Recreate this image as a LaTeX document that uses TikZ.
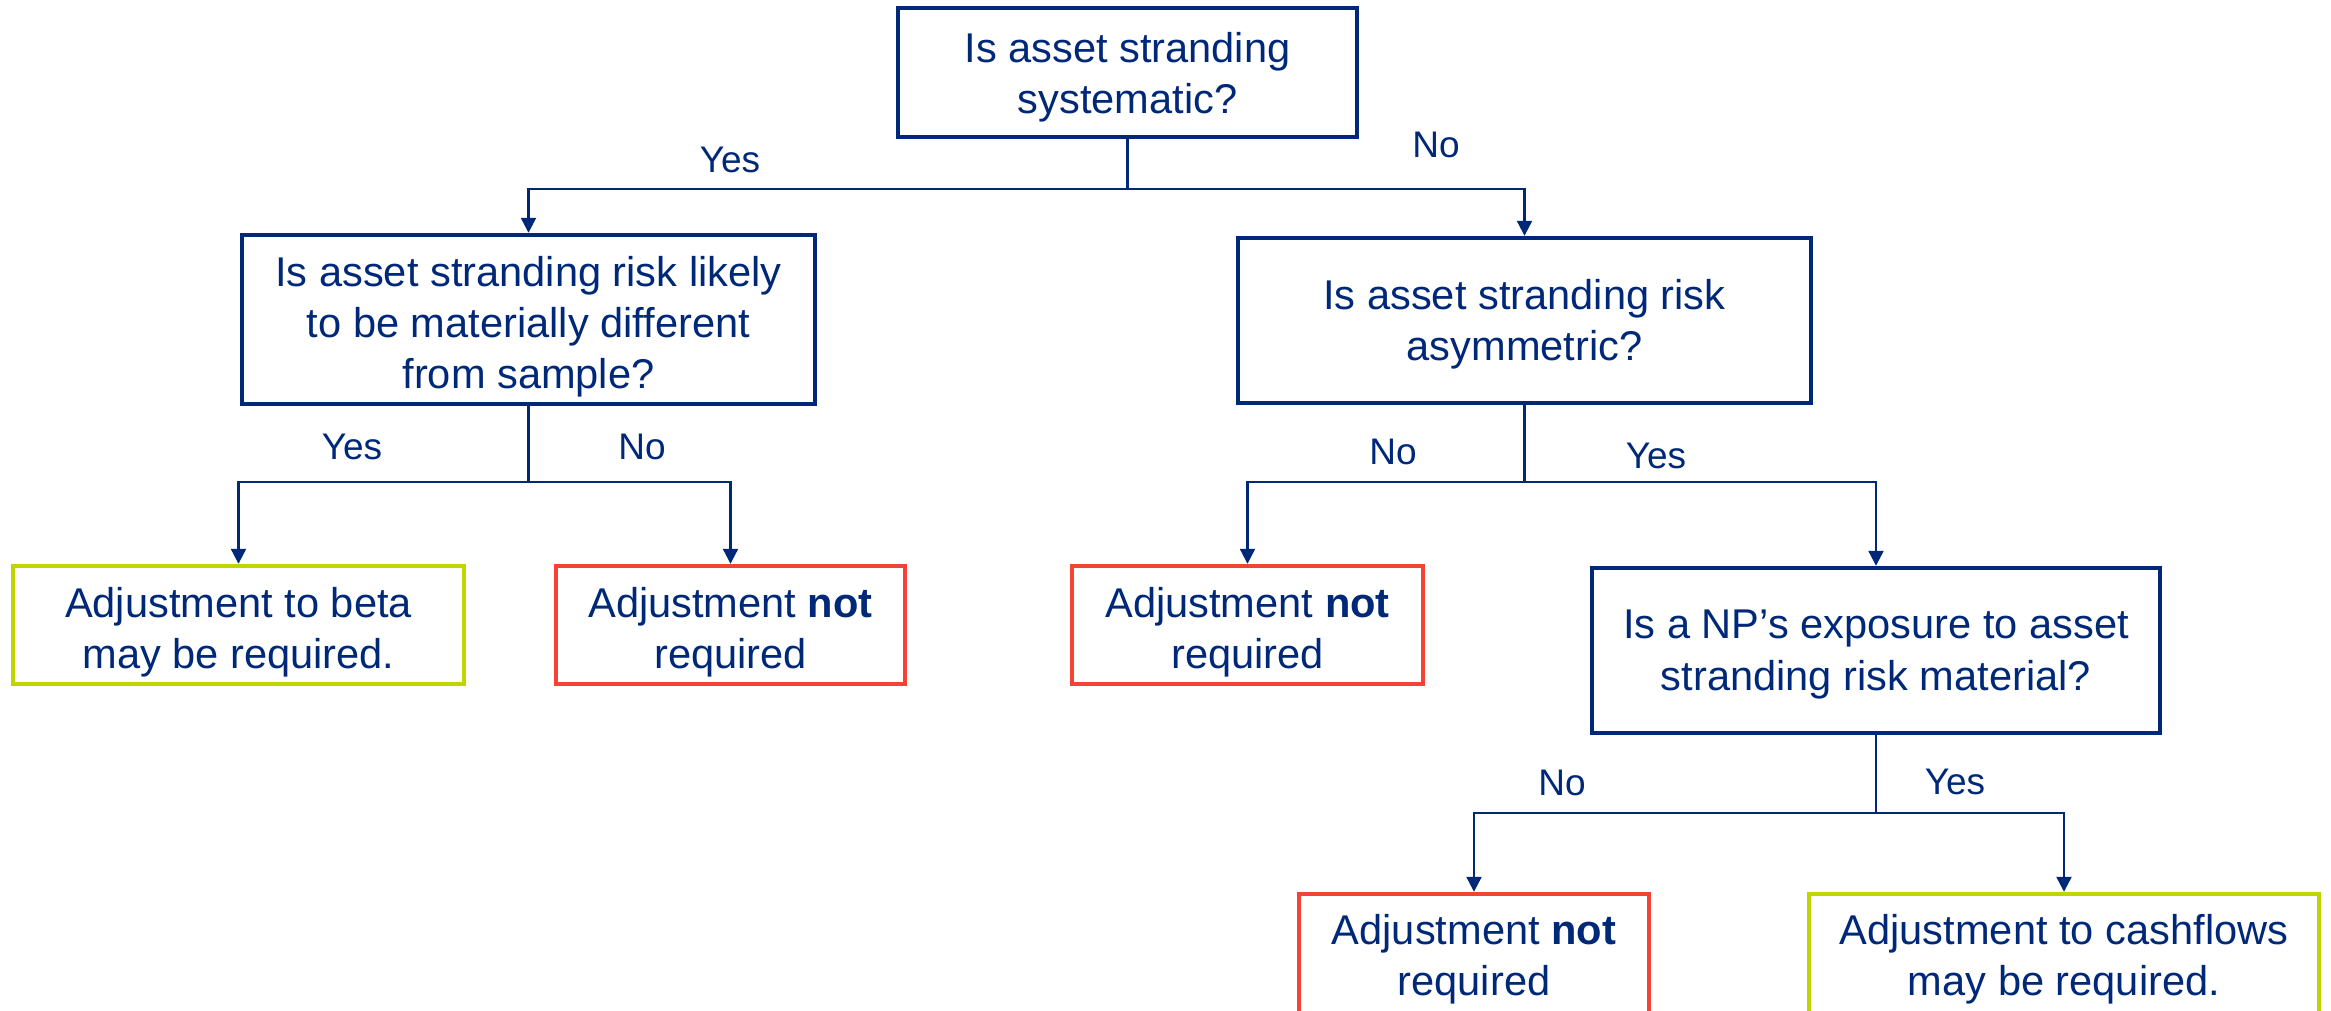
\documentclass[tikz,border=0pt]{standalone}
\usepackage{fontspec}
\setmainfont{Liberation Sans}
\usetikzlibrary{arrows.meta}
\definecolor{navy}{RGB}{0,40,120}
\definecolor{redb}{RGB}{244,67,54}
\definecolor{greenb}{RGB}{192,212,0}
\tikzset{
  box/.style={draw=navy, line width=2.2pt, inner sep=0pt},
  txt/.style={text=navy, align=center, inner sep=0pt,
    font=\fontsize{20.8}{25.6}\selectfont},
  qbox/.style={box},
  nobox/.style={box, draw=redb},
  yesbox/.style={box, draw=greenb},
  conn/.style={draw=navy, line width=1.1pt},
  arr/.style={conn, -{Triangle[width=7.5pt,length=7.5pt]}},
  lbl/.style={text=navy, font=\fontsize{18.5}{22}\selectfont, inner sep=0pt}
}
\begin{document}
\begin{tikzpicture}[x=0.5pt,y=-0.5pt]
\useasboundingbox (0,0) rectangle (2331,1011);
\clip (0,0) rectangle (2331,1011);
% question boxes
\node[qbox, minimum width=229.5pt, minimum height=64.5pt] (q1) at (1127.5,72.5) {};
\node[txt] (t1) at ([yshift=-2.5pt]q1.center) {Is asset stranding\\systematic?};
\node[qbox, minimum width=286.5pt, minimum height=84.5pt] (q2) at (528.5,319.5) {};
\node[txt] (t2) at ([yshift=-3.5pt]q2.center) {Is asset stranding risk likely\\to be materially different\\from sample?};
\node[qbox, minimum width=286.5pt, minimum height=82.5pt] (q3) at (1524.5,320.5) {};
\node[txt] (t3) at ([yshift=-2pt]q3.center) {Is asset stranding risk\\asymmetric?};
\node[qbox, minimum width=284pt, minimum height=82.5pt] (q4) at (1876,650.5) {};
\node[txt] (t4) at ([yshift=-2pt]q4.center) {Is a NP’s exposure to asset\\stranding risk material?};
% result boxes
\node[yesbox, minimum width=225.5pt, minimum height=59pt] (r1) at (238.5,625) {};
\node[txt] (s1) at ([yshift=-3.5pt]r1.center) {Adjustment to beta\\may be required.};
\node[nobox, minimum width=174.5pt, minimum height=59pt] (r2) at (730.5,625) {};
\node[txt] (s2) at ([yshift=-3.5pt]r2.center) {Adjustment \textbf{not}\\required};
\node[nobox, minimum width=175.5pt, minimum height=59pt] (r3) at (1247.5,625) {};
\node[txt] (s3) at ([yshift=-3.5pt]r3.center) {Adjustment \textbf{not}\\required};
\node[nobox, minimum width=175pt, minimum height=61pt] (r4) at (1474,955) {};
\node[txt] (s4) at ([yshift=-2pt]r4.center) {Adjustment \textbf{not}\\required};
\node[yesbox, minimum width=255pt, minimum height=61pt] (r5) at (2064,955) {};
\node[txt] (s5) at ([yshift=-2pt]r5.center) {Adjustment to cashflows\\may be required.};
% junctions
\coordinate (j1) at (1127.5,189);
\coordinate (j2) at (528.5,482);
\coordinate (j3) at (1524.5,482);
\coordinate (j4) at (1876,813);
% connectors
\draw[conn] (q1.south) -- (j1);
\draw[arr] (j1) -| (q2.north);
\draw[arr] (j1) -| (q3.north);
\draw[conn] (q2.south) -- (j2);
\draw[arr] (j2) -| (r1.north);
\draw[arr] (j2) -| (r2.north);
\draw[conn] (q3.south) -- (j3);
\draw[arr] (j3) -| (r3.north);
\draw[arr] (j3) -| (q4.north);
\draw[conn] (q4.south) -- (j4);
\draw[arr] (j4) -| (r4.north);
\draw[arr] (j4) -| (r5.north);
% labels
\node[lbl] (y1) at (730,160) {Yes};
\node[lbl] (n1) at (1436,145) {No};
\node[lbl] (y2) at (352,447) {Yes};
\node[lbl] (n2) at (642,447) {No};
\node[lbl] (n3) at (1393,452) {No};
\node[lbl] (y3) at (1656,456) {Yes};
\node[lbl] (n4) at (1562,783) {No};
\node[lbl] (y4) at (1955,782) {Yes};
\end{tikzpicture}
\end{document}
